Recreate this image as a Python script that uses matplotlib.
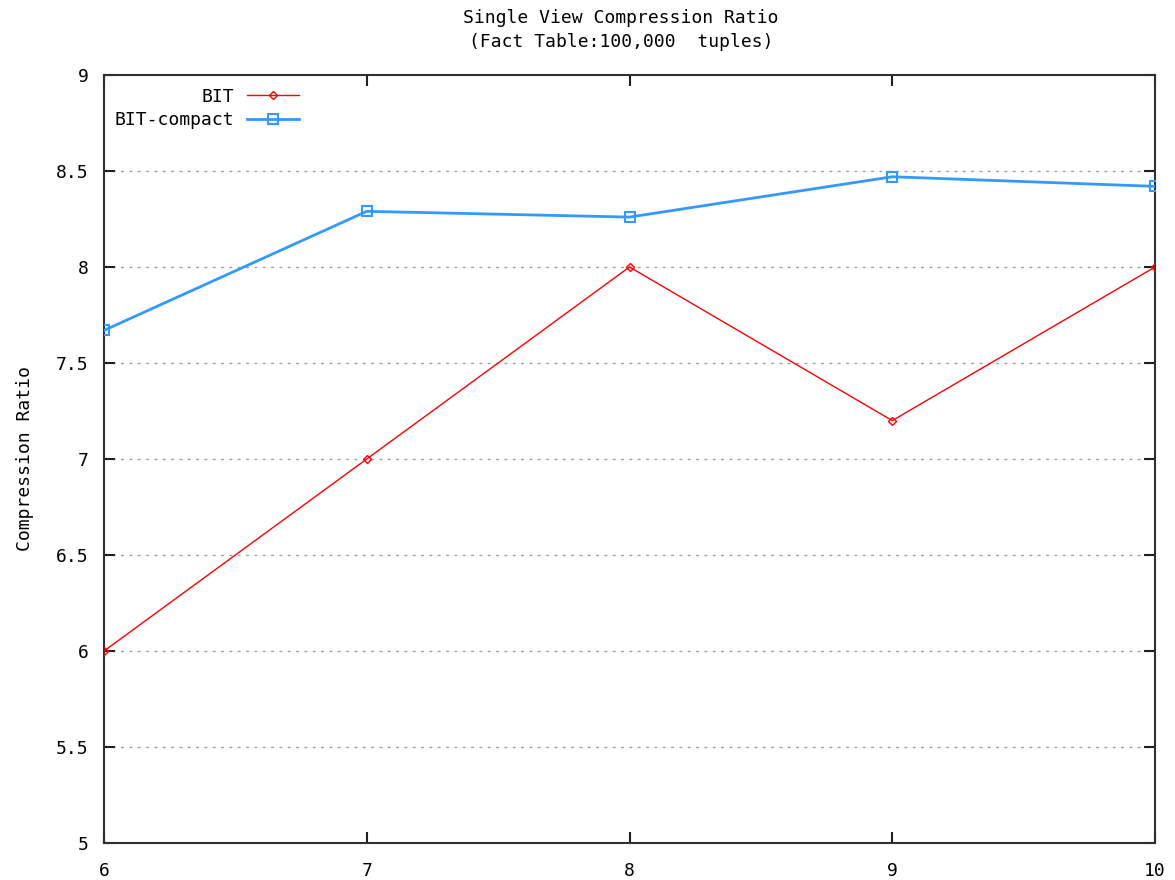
import matplotlib
matplotlib.use("Agg")
import matplotlib.pyplot as plt

x_vals = [6, 7, 8, 9, 10]
bit = [6.0, 7.0, 8.0, 7.2, 8.0]
bit_compact = [7.67, 8.29, 8.26, 8.47, 8.42]
y_ticks = [5, 5.5, 6, 6.5, 7, 7.5, 8, 8.5, 9]
y_tick_labels = ["5", "5.5", "6", "6.5", "7", "7.5", "8", "8.5", "9"]
x_ticks = [6, 7, 8, 9, 10]

plt.rcParams['font.family'] = ['DejaVu Sans Mono']
FS = 13

fig = plt.figure(figsize=(11.75, 8.8), dpi=100)
ax = fig.add_axes([104/1175, 37/880, (1155-104)/1175, (843-75)/880])

ax.plot(x_vals, bit, color='#ff0000', lw=1.0, marker='D', markersize=4,
        fillstyle='none', markeredgewidth=1.0, label='BIT', zorder=3)
ax.plot(x_vals, bit_compact, color='#3399ff', lw=2.0, marker='s', markersize=7,
        fillstyle='none', markeredgewidth=1.5, label='BIT-compact', zorder=3)

ax.set_xlim(6, 10)
ax.set_ylim(5, 9)
ax.set_yticks(y_ticks)
ax.set_yticklabels(y_tick_labels)
ax.set_xticks(x_ticks)
ax.set_xticklabels([str(v) for v in x_ticks])

for yv in y_ticks[1:-1]:
    ax.axhline(yv, color='#a0a0a0', lw=1.0, ls=(0, (2, 4)), zorder=1)

ax.tick_params(axis='both', direction='in', length=8, width=1.5,
               top=True, right=True, labelsize=FS, colors='#202020')
ax.tick_params(axis='y', pad=11)
ax.tick_params(axis='x', pad=14)
ax.tick_params(axis='both', labelcolor='black')
for s in ax.spines.values():
    s.set_linewidth(1.5)
    s.set_color('#303030')

ax.set_ylabel('Compression Ratio', fontsize=FS)
ax.yaxis.set_label_coords(-70/1051, 0.5)

fig.text(621/1175, 1 - 18/880, 'Single View Compression Ratio', ha='center', va='center', fontsize=FS)
fig.text(621/1175, 1 - 42/880, '(Fact Table:100,000  tuples)', ha='center', va='center', fontsize=FS)

leg = ax.legend(loc='upper left', bbox_to_anchor=(102/1175, 1 - 75/880),
                bbox_transform=fig.transFigure, frameon=False, markerfirst=False,
                fontsize=FS, handlelength=2.9, handletextpad=0.7, labelspacing=0.3,
                borderpad=0.2)

fig.savefig('out.png', dpi=100)
